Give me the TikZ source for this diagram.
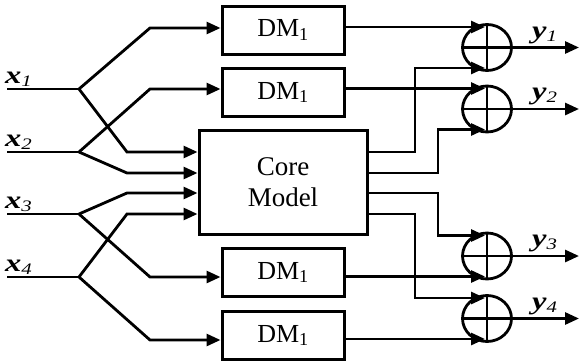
\documentclass[tikz,border=0pt]{standalone}
\usepackage{fontspec}
\setmainfont{Liberation Serif}
\usetikzlibrary{arrows.meta,calc,shapes.geometric}

% signal names: wide bold italic letter, italic index
\newcommand{\sig}[2]{\scalebox{1.3}[1]{\textbf{\textit{#1}}\raisebox{-0.12em}{\fontsize{16}{16}\selectfont\textit{#2}}}}
\newcommand{\dmtext}{DM\textsubscript{1}}

\begin{document}
\begin{tikzpicture}[x=1pt,y=-1pt,
  wire/.style={line width=2.8pt},
  arr/.style={wire,-{Triangle[length=14pt,width=12pt]}},
  block/.style={draw,line width=3pt,inner sep=0pt,font=\fontsize{26}{30}\selectfont},
  dmbox/.style={block,minimum width=122pt,minimum height=48pt},
  summer/.style={draw,ellipse,line width=2.8pt,minimum width=49pt,minimum height=46pt,inner sep=0pt},
  lbl/.style={inner sep=0pt,font=\fontsize{25}{25}\selectfont}
]
\useasboundingbox (0,0) rectangle (580,362);

% blocks
\node[dmbox] (dm1) at (283,30) {\dmtext};
\node[dmbox] (dm2) at (283,92.5) {\dmtext};
\node[block,minimum width=168pt,minimum height=104pt,align=center,
      font=\fontsize{27}{31}\selectfont] (core) at (283,182) {Core\\Model};
\node[dmbox] (dm3) at (283,272.5) {\dmtext};
\node[dmbox] (dm4) at (283,335.5) {\dmtext};

% summing junctions
\node[summer] (s1) at (487,47.5) {};
\node[summer] (s2) at (487,109) {};
\node[summer] (s3) at (487,256) {};
\node[summer] (s4) at (487,318.5) {};
\foreach \s in {s1,s2,s3,s4}
  \draw[wire] (\s.north) -- (\s.south) (\s.west) -- (\s.east);

% input terminals and branch points
\coordinate (in1) at (7,89);  \coordinate (b1) at (79,89);
\coordinate (in2) at (7,152); \coordinate (b2) at (79,152);
\coordinate (in3) at (7,214); \coordinate (b3) at (79,214);
\coordinate (in4) at (7,277); \coordinate (b4) at (79,277);
\coordinate (rt) at (579,0);

% summer input points
\foreach \s in {s1,s2,s3,s4}{
  \coordinate (\s a) at ($(\s.center)+(-2,-20.5)$);
  \coordinate (\s b) at ($(\s.center)+(-2,20.5)$);
}

% input labels
\node[lbl,anchor=base west] (lx1) at (5,83) {\sig{x}{1}};
\node[lbl,anchor=base west] (lx2) at (5,146) {\sig{x}{2}};
\node[lbl,anchor=base west] (lx3) at (5,208) {\sig{x}{3}};
\node[lbl,anchor=base west] (lx4) at (5,271) {\sig{x}{4}};

% inputs fanned out to the decoupled models and the core
\draw[wire] (in1) -- (b1);
\draw[wire] (in2) -- (b2);
\draw[wire] (in3) -- (b3);
\draw[wire] (in4) -- (b4);
\draw[arr] (b1) -- (150,28) coordinate (k1) -- (k1 -| dm1.west);
\draw[arr] (b1) -- (127,152) coordinate (k2) -- (k2 -| core.west);
\draw[arr] (b2) -- (150,89) coordinate (k3) -- (k3 -| dm2.west);
\draw[arr] (b2) -- (127,173) coordinate (k4) -- (k4 -| core.west);
\draw[arr] (b3) -- (127,193) coordinate (k5) -- (k5 -| core.west);
\draw[arr] (b3) -- (150,277) coordinate (k6) -- (k6 -| dm3.west);
\draw[arr] (b4) -- (127,214) coordinate (k7) -- (k7 -| core.west);
\draw[arr] (b4) -- (150,340) coordinate (k8) -- (k8 -| dm4.west);

% decoupled model outputs
\draw[arr] (s1a -| dm1.east) -- (s1a);
\draw[arr] (s2a -| dm2.east) -- (s2a);
\draw[arr] (s3b -| dm3.east) -- (s3b);
\draw[arr] (s4b -| dm4.east) -- (s4b);

% core model outputs
\draw[arr] ([yshift=30pt]core.east) -- (415,152) |- (s1b);
\draw[arr] ([yshift=9pt]core.east) -- (438,173) |- (s2b);
\draw[arr] ([yshift=-11pt]core.east) -- (438,193) |- (s3a);
\draw[arr] ([yshift=-32pt]core.east) -- (415,214) |- (s4a);

% outputs
\foreach \s in {s1,s2,s3,s4}
  \draw[arr] (\s.east) -- (\s.east -| rt);
\node[lbl,anchor=base west] (ly1) at (532,38) {\sig{y}{1}};
\node[lbl,anchor=base west] (ly2) at (532,99) {\sig{y}{2}};
\node[lbl,anchor=base west] (ly3) at (532,246.5) {\sig{y}{3}};
\node[lbl,anchor=base west] (ly4) at (532,309) {\sig{y}{4}};
\end{tikzpicture}
\end{document}
